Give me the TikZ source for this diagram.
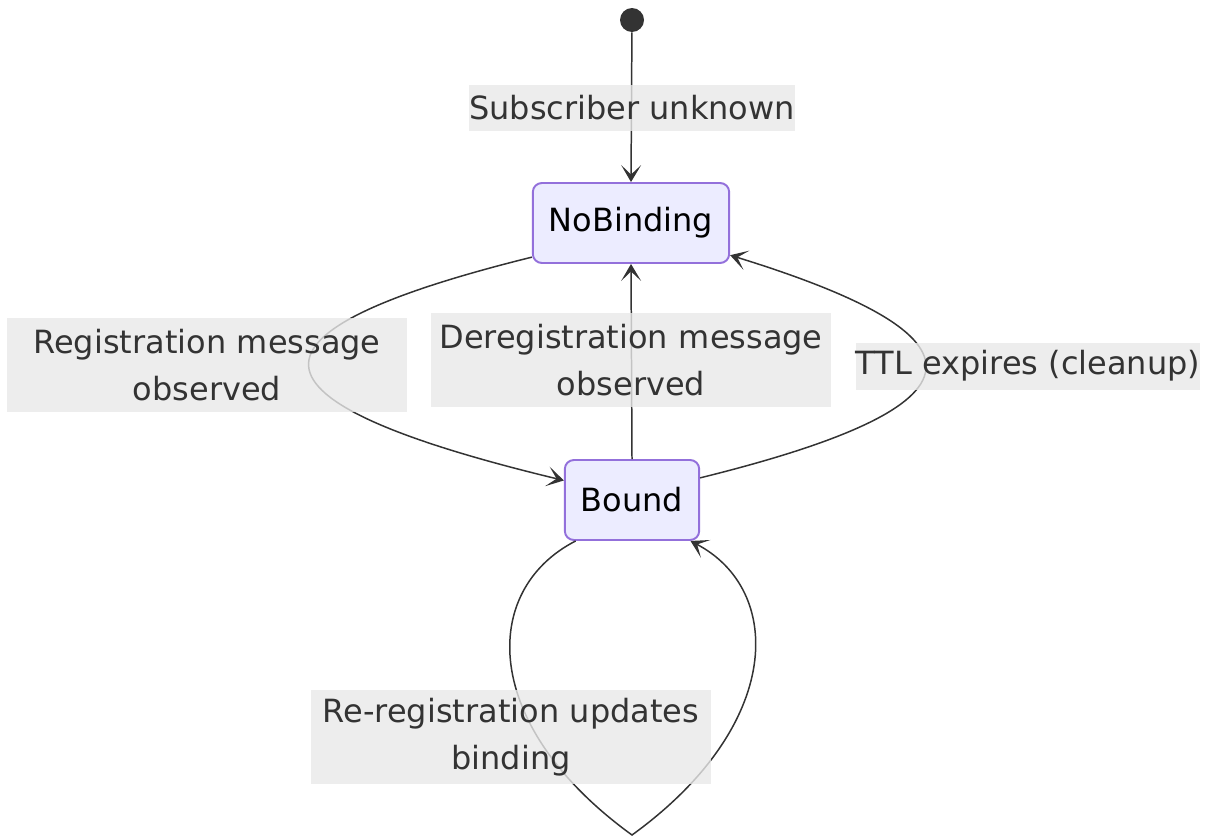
\documentclass[tikz,border=0pt]{standalone}
\usepackage{fontspec}
\setmainfont{DejaVu Sans}
\usetikzlibrary{arrows.meta}

\definecolor{edgecol}{HTML}{333333}
\definecolor{statefill}{HTML}{ECECFF}
\definecolor{stateline}{HTML}{9370DB}
\definecolor{lblfill}{HTML}{E8E8E8}

\tikzset{st/.style={draw=stateline, fill=statefill, line width=1.1pt, rounded corners=0.18cm,
                    minimum height=1.6cm, inner xsep=0.32cm, text=black},
         lbl/.style={fill=lblfill, fill opacity=0.8, text opacity=1, text=edgecol,
                     inner sep=0pt, minimum height=0.94cm},
         lbl2/.style={lbl, text width=8cm, align=center, minimum height=1.88cm},
         tr/.style={draw=edgecol, line width=0.85pt,
                    -{Stealth[length=0.34cm,width=0.4cm,inset=0.19cm]}}}

\begin{document}
\begin{tikzpicture}[x=0.02cm, y=-0.02cm, font=\fontsize{18.2pt}{26.7pt}\selectfont]
\useasboundingbox (0,0) rectangle (1209,838);
\node[circle, fill=edgecol, minimum size=0.48cm, inner sep=0pt] (start) at (632,20) {};
\node[st] (nb) at (631,223) {NoBinding};
\node[st] (bd) at (632,500) {Bound};
\coordinate (loopbot) at (632,835);

\draw[tr] (start) -- (nb.north);
\draw[tr] (nb.199) .. controls (230,332) and (230,400) .. (bd.164);
\draw[tr] (bd.north) -- (nb.south);
\draw[tr] (bd.18) .. controls (995,405) and (995,337) .. (nb.-18);
\draw[tr] (bd.216.5) .. controls (480,590) and (480,725) .. (loopbot)
          .. controls (784,725) and (784,590) .. (bd.-35.5);

\node[lbl] (l1) at (632,108) {Subscriber unknown};
\node[lbl2] (l2) at (207,365) {Registration message\\observed};
\node[lbl2] (l3) at (631,360) {Deregistration message\\observed};
\node[lbl] (l4) at (1028,366) {TTL expires (cleanup)};
\node[lbl2] (l5) at (511,737) {Re-registration updates\\binding};
\end{tikzpicture}
\end{document}
